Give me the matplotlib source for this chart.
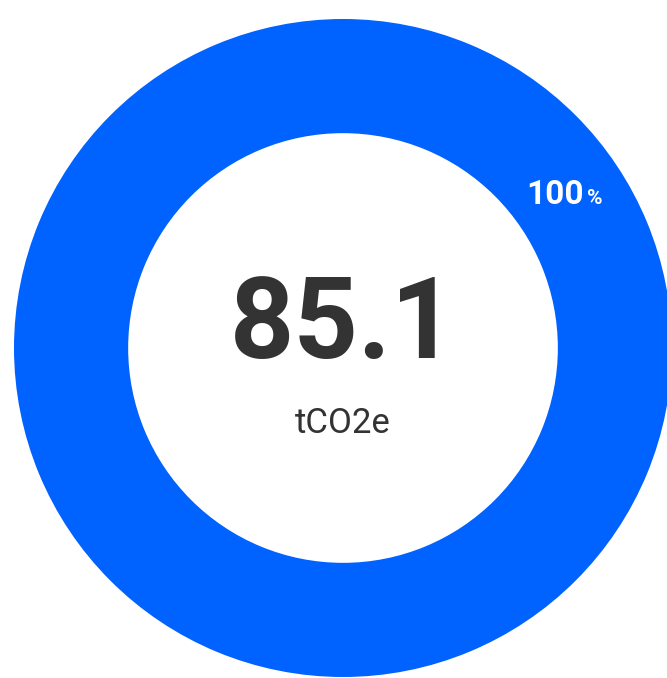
import matplotlib
matplotlib.use("Agg")
import matplotlib.pyplot as plt

# data
shares = [100]
total = 85.1
unit = "tCO2e"
ring_color = "#0062ff"

W, H = 667, 678
fig = plt.figure(figsize=(W / 100, H / 100), dpi=100)

# circle centre (343, 348) px, outer radius 329 px
cx, cy, r = 343, 348, 329
ax = fig.add_axes([(cx - r) / W, (H - cy - r) / H, 2 * r / W, 2 * r / H])

wedges, texts, autotexts = ax.pie(
    shares, colors=[ring_color], startangle=214, radius=1.0,
    wedgeprops=dict(width=0.347, edgecolor="none"),
    autopct=lambda p: "%d" % round(p), pctdistance=0.83,
    textprops=dict(color="white", fontsize=24, fontweight="bold", family="Roboto"))
ax.set_xlim(-1, 1)
ax.set_ylim(-1, 1)

# small percent sign right after the value
for t in autotexts:
    x, y = t.get_position()
    t.set_position((x - 0.045, y))
    t.set_ha("center")
    ax.annotate("%", (x - 0.045, y), xytext=(23, -2), textcoords="offset points",
                color="white", fontsize=15, fontweight="bold", family="Roboto",
                ha="left", va="center")

ax.text(0, 0.065, "%.1f" % total, ha="center", va="center", fontsize=81,
        fontweight="bold", family="Roboto", color="#333333")
ax.text(0, -0.23, unit, ha="center", va="center", fontsize=25,
        family="Roboto", color="#333333")

fig.savefig("out.png", dpi=100)
